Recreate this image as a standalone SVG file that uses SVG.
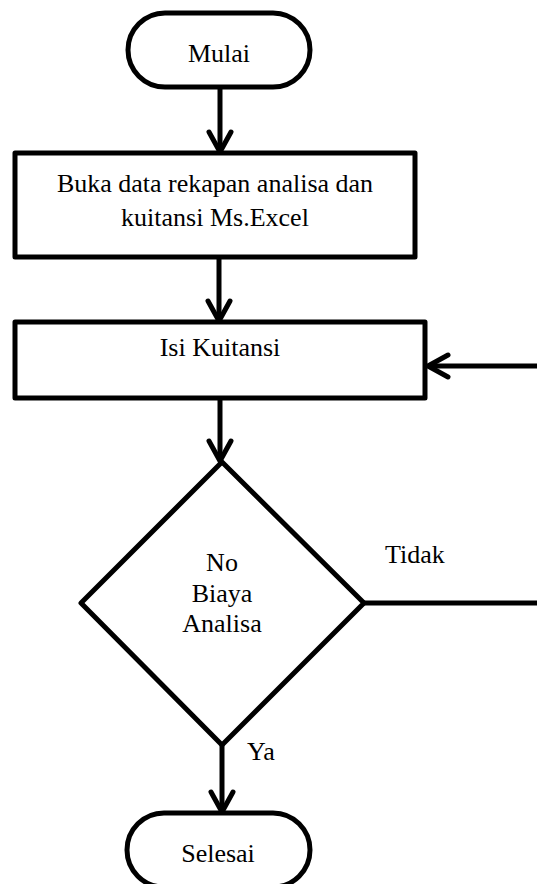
<svg xmlns="http://www.w3.org/2000/svg" width="537" height="884" viewBox="0 0 537 884">
<defs>
<style>
.shape{fill:#fff;stroke:#000;stroke-width:5;stroke-linejoin:round}
.conn{fill:none;stroke:#000;stroke-width:5}
text{font-family:"Liberation Serif","Times New Roman",serif;font-size:26px;fill:#000}
.c{text-anchor:middle}
</style>
<marker id="arr" markerUnits="userSpaceOnUse" markerWidth="40" markerHeight="40" viewBox="-30 -20 40 40" refX="0" refY="0" orient="auto">
<path d="M-20,-11 L0,0 L-20,11" fill="none" stroke="#000" stroke-width="5" stroke-linecap="round" stroke-linejoin="round"/>
</marker>
</defs>
<rect width="537" height="884" fill="#fff"/>
<g id="connectors">
<path class="conn" d="M220,87 L220,152" marker-end="url(#arr)"/>
<path class="conn" d="M219,257 L219,321" marker-end="url(#arr)"/>
<path class="conn" d="M220,398 L220,461" marker-end="url(#arr)"/>
<path class="conn" d="M222,745 L222,812" marker-end="url(#arr)"/>
<path class="conn" d="M364,603 L560,603 L560,366 L428,366" marker-end="url(#arr)"/>
</g>
<g id="mulai">
<rect class="shape" x="128" y="13" width="182" height="74" rx="37" ry="37"/>
<text class="c" x="219" y="62">Mulai</text>
</g>
<g id="buka">
<rect class="shape" x="15" y="153" width="400" height="104"/>
<text class="c" x="215" y="192">Buka data rekapan analisa dan</text>
<text class="c" x="215" y="226">kuitansi Ms.Excel</text>
</g>
<g id="isi">
<rect class="shape" x="15" y="322" width="410" height="76"/>
<text class="c" x="220" y="356">Isi Kuitansi</text>
</g>
<g id="decision">
<polygon class="shape" points="222,462 364,603 222,745 81,603"/>
<text class="c" x="222" y="571">No</text>
<text class="c" x="222" y="602">Biaya</text>
<text class="c" x="222" y="632">Analisa</text>
</g>
<g id="labels">
<text x="385" y="563">Tidak</text>
<text x="247" y="760">Ya</text>
</g>
<g id="selesai">
<rect class="shape" x="127" y="813" width="183" height="74" rx="37" ry="37"/>
<text class="c" x="218" y="862">Selesai</text>
</g>
</svg>
